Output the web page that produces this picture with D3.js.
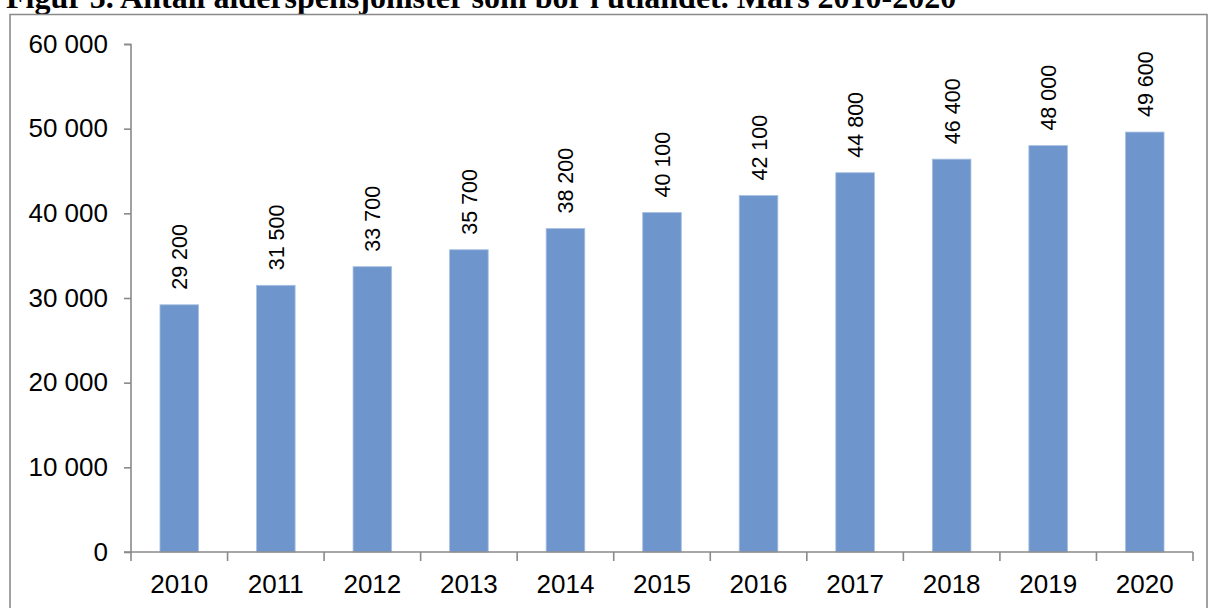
<!DOCTYPE html>
<html>
<head>
<meta charset="utf-8">
<script src="https://cdn.jsdelivr.net/npm/d3@7"></script>
<style>
  body { margin: 0; background: #fff; }
  svg { display: block; }
</style>
</head>
<body>
<div id="chart"></div>
<script>
var years = ["2010","2011","2012","2013","2014","2015","2016","2017","2018","2019","2020"];
var pensioners = [29200, 31500, 33700, 35700, 38200, 40100, 42100, 44800, 46400, 48000, 49600];
var yTicks = [0, 10000, 20000, 30000, 40000, 50000, 60000];
var title = "Figur 5. Antall alderspensjonister som bor i utlandet. Mars 2010-2020";

var data = [];
for (var i = 0; i < years.length; i++) {
  data.push({year: years[i], value: pensioners[i]});
}

var W = 1211, H = 608;
var margin = {top: 44, right: 18, bottom: 56, left: 131},
  width = 1193 - margin.left,
  height = 552 - margin.top;

// thousands separated by a space, like the original
function fmt(v) {
  return d3.format(",")(v).replace(/,/g, " ");
}

var root = d3.select("#chart")
  .append("svg")
    .attr("width", W)
    .attr("height", H);

// title, cut off at the top as in the picture
root.append("text")
  .attr("x", 6)
  .attr("y", 8)
  .text(title)
  .style("font-family", "'Liberation Serif', 'Times New Roman', serif")
  .style("font-weight", "bold")
  .style("font-size", "32px")
  .style("fill", "#000");

// chart frame
root.append("path")
  .attr("d", "M10,620 L10,14.5 L1207,14.5 L1207,620")
  .attr("fill", "none")
  .attr("stroke", "#8a8a8a")
  .attr("stroke-width", 1.6);

var svg = root.append("g")
  .attr("transform", "translate(" + margin.left + "," + margin.top + ")");

var x = d3.scaleBand()
  .domain(years)
  .range([0, width])
  .paddingInner(0.6)
  .paddingOuter(0.3);

var y = d3.scaleLinear()
  .domain([0, 60000])
  .range([height, 0]);

// bars
svg.append("g")
  .selectAll("rect")
  .data(data)
  .enter()
  .append("rect")
    .attr("x", function (d) { return x(d.year); })
    .attr("y", function (d) { return y(d.value); })
    .attr("width", x.bandwidth())
    .attr("height", function (d) { return height - y(d.value); })
    .style("fill", "#6f96cc")
    .style("stroke", "#a9c1e3")
    .style("stroke-width", 0.8);

// value labels, rotated
svg.append("g")
  .selectAll("text")
  .data(data)
  .enter()
  .append("text")
    .attr("transform", function (d) {
      return "translate(" + (x(d.year) + x.bandwidth() / 2 + 1) + "," + (y(d.value) - 15) + ") rotate(-90)";
    })
    .attr("dominant-baseline", "central")
    .text(function (d) { return fmt(d.value); })
    .style("font-family", "'Liberation Sans', Arial, sans-serif")
    .style("font-size", "21.5px")
    .style("fill", "#000");

// y axis
var yAxis = svg.append("g")
  .call(d3.axisLeft(y).tickValues(yTicks).tickFormat(fmt).tickSize(7).tickPadding(16));
yAxis.selectAll("path, line").attr("stroke", "#8a8a8a").attr("stroke-width", 1.6);
yAxis.select(".domain").attr("d", "M-7,0.5H0V" + height);
yAxis.selectAll("text")
  .style("font-family", "'Liberation Sans', Arial, sans-serif")
  .style("font-size", "26px")
  .style("fill", "#000");

// x axis, ticks between categories
var xAxis = svg.append("g")
  .attr("transform", "translate(0," + height + ")")
  .call(d3.axisBottom(x).tickSize(0).tickPadding(23));
xAxis.select(".domain").attr("stroke", "#8a8a8a").attr("stroke-width", 1.6)
  .attr("d", "M-7,0H" + width);
xAxis.selectAll("text")
  .style("font-family", "'Liberation Sans', Arial, sans-serif")
  .style("font-size", "26px")
  .style("fill", "#000");
xAxis.append("g")
  .selectAll("line")
  .data(years.concat(["end"]))
  .enter()
  .append("line")
    .attr("x1", function (d, i) { return i * x.step(); })
    .attr("x2", function (d, i) { return i * x.step(); })
    .attr("y1", 0)
    .attr("y2", 9)
    .attr("stroke", "#8a8a8a")
    .attr("stroke-width", 1.6);
</script>
</body>
</html>
